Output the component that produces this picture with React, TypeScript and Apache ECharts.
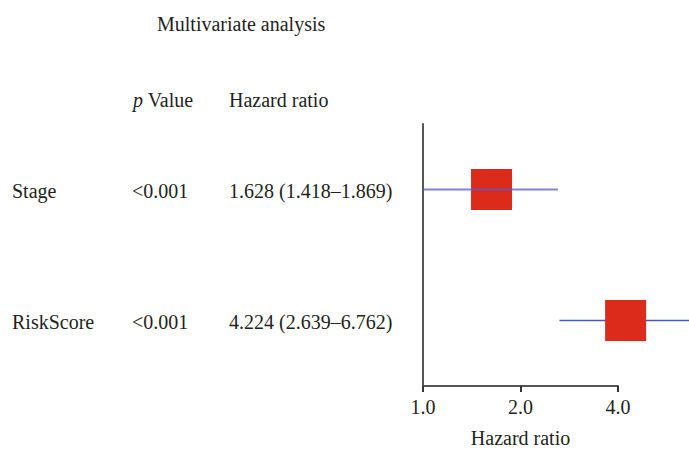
import React, { useEffect, useRef } from "react";
import * as echarts from "echarts";

const variables = ["Stage", "RiskScore"];
const pValues = ["<0.001", "<0.001"];
const hazardRatios = [1.628, 4.224];
const ciLower = [1.418, 2.639];
const ciUpper = [1.869, 6.762];
// extents of the whisker lines as drawn in the figure
const drawnLower = [1.0, 2.639];
const drawnUpper = [2.61, 6.762];
const axisMin = 1;
const axisMax = 4;
const dataMax = 6.63;

const FONT = "'Liberation Serif', 'DejaVu Serif', serif";
const FS = 20;
const TXT = "#231f20";

export default function App() {
  const ref = useRef<HTMLDivElement>(null);
  useEffect(() => {
    if (!ref.current) return;
    const chart = echarts.init(ref.current, undefined, { renderer: "svg" });
    const top = 124;
    const bottom = 73;
    const left = 423;
    const option: any = {
      animation: false,
      backgroundColor: "#ffffff",
      grid: [
        { left, right: 71, top, bottom },
        { left, right: 0, top, bottom },
      ],
      xAxis: [
        {
          type: "log",
          logBase: 2,
          gridIndex: 0,
          min: axisMin,
          max: axisMax,
          axisLine: { show: true, lineStyle: { color: "#555", width: 2 } },
          axisTick: { show: true, inside: false, length: 6, lineStyle: { color: "#333", width: 2 } },
          axisLabel: {
            show: true,
            margin: 11,
            fontSize: FS,
            fontFamily: FONT,
            color: TXT,
            formatter: (v: number) => v.toFixed(1),
          },
          splitLine: { show: false },
          minorTick: { show: false },
          name: "Hazard ratio",
          nameLocation: "middle",
          nameGap: 42,
          nameTextStyle: { fontSize: FS, fontFamily: FONT, color: TXT },
        },
        {
          type: "log",
          logBase: 2,
          gridIndex: 1,
          min: axisMin,
          max: dataMax,
          show: false,
        },
      ],
      yAxis: [
        {
          type: "category",
          gridIndex: 0,
          data: variables,
          inverse: true,
          axisLine: { show: true, lineStyle: { color: "#555", width: 2 } },
          axisTick: { show: false },
          axisLabel: { show: false },
          splitLine: { show: false },
        },
        {
          type: "category",
          gridIndex: 1,
          data: variables,
          inverse: true,
          show: false,
        },
      ],
      graphic: [
        {
          type: "text",
          x: 157,
          y: 24,
          style: { text: "Multivariate analysis", fontSize: FS, fontFamily: FONT, fill: TXT, verticalAlign: "middle" },
        },
        {
          type: "text",
          x: 133,
          y: 100,
          style: {
            text: "{i|p} Value",
            fontSize: FS,
            fontFamily: FONT,
            fill: TXT,
            verticalAlign: "middle",
            rich: { i: { fontStyle: "italic", fontSize: FS, fontFamily: FONT, fill: TXT } },
          },
        },
        {
          type: "text",
          x: 229,
          y: 100,
          style: { text: "Hazard ratio", fontSize: FS, fontFamily: FONT, fill: TXT, verticalAlign: "middle" },
        },
      ],
      series: [
        {
          type: "custom",
          xAxisIndex: 1,
          yAxisIndex: 1,
          clip: true,
          data: variables.map((_, i) => [hazardRatios[i], i, drawnLower[i], drawnUpper[i]]),
          renderItem: (params: any, api: any) => {
            const i = params.dataIndex;
            const c = api.coord([api.value(0), api.value(1)]);
            const l = api.coord([api.value(2), api.value(1)]);
            const h = api.coord([api.value(3), api.value(1)]);
            const s = 41;
            const box = {
              type: "rect",
              shape: { x: c[0] - s / 2, y: c[1] - s / 2, width: s, height: s },
              style: { fill: "#dc2b1b" },
            };
            const line = {
              type: "line",
              shape: { x1: l[0], y1: c[1], x2: h[0], y2: c[1] },
              style: { stroke: i === 0 ? "rgba(88,92,200,0.75)" : "#4a55c2", lineWidth: i === 0 ? 2 : 1.5 },
            };
            return { type: "group", children: i === 0 ? [box, line] : [line, box] };
          },
        },
        {
          type: "custom",
          xAxisIndex: 1,
          yAxisIndex: 1,
          clip: false,
          silent: true,
          data: variables.map((_, i) => [hazardRatios[i], i]),
          renderItem: (params: any, api: any) => {
            const i = params.dataIndex;
            const y = api.coord([1, api.value(1)])[1] + 1;
            const mk = (x: number, text: string) => ({
              type: "text",
              x,
              y,
              style: { text, fontSize: FS, fontFamily: FONT, fill: TXT, verticalAlign: "middle", align: "left" },
            });
            const hrText = `${hazardRatios[i].toFixed(3)} (${ciLower[i].toFixed(3)}–${ciUpper[i].toFixed(3)})`;
            return {
              type: "group",
              children: [mk(12, variables[i]), mk(132, pValues[i]), mk(229, hrText)],
            };
          },
        },
      ],
    };
    chart.setOption(option);
    return () => chart.dispose();
  }, []);
  return (
    <div
      ref={ref}
      style={{ position: "fixed", left: 0, top: 0, width: 689, height: 459, background: "#fff" }}
    />
  );
}
